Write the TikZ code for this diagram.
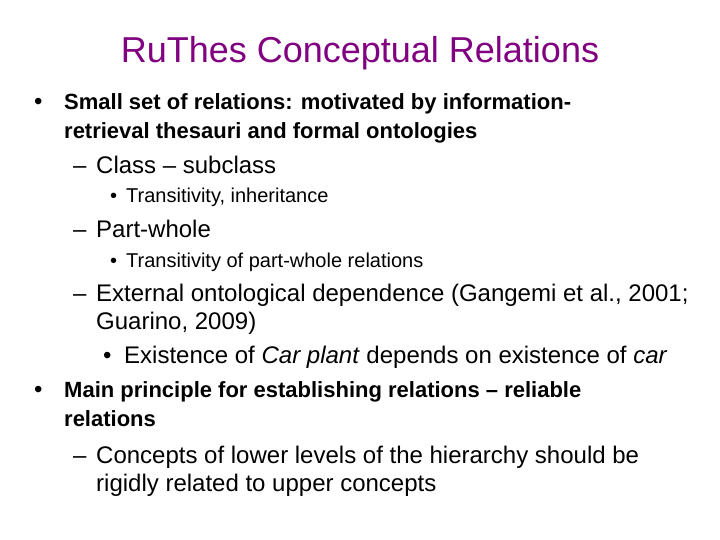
\documentclass[tikz,border=0pt]{standalone}
\usepackage{fontspec}
\setmainfont{Liberation Sans}
\definecolor{titlec}{RGB}{128,0,128}
\begin{document}
\begin{tikzpicture}[x=1pt,y=-1pt,
  every node/.style={inner sep=0pt,anchor=base west},
  lone/.style={font=\fontsize{22}{26}\selectfont\bfseries},
  ltwo/.style={font=\fontsize{24}{28}\selectfont},
  lthree/.style={font=\fontsize{20}{24}\selectfont},
  bul/.style={font=\fontsize{24}{28}\selectfont}]
\useasboundingbox (0,0) rectangle (720,540);
\node[anchor=base,text=titlec,font=\fontsize{36}{42}\selectfont] (t) at (360,63) {RuThes Conceptual Relations};
\node[bul] (b1) at (34,110) {•};
\node[lone] (l1) at (64,110) {Small set of relations: motivated by information-};
\node[lone] (l2) at (64,139) {retrieval thesauri and formal ontologies};
\node[ltwo] (d1) at (73,174) {–};
\node[ltwo] (l3) at (96,174) {Class – subclass};
\node[lthree] (s1) at (110,203) {•};
\node[lthree] (l4) at (126,203) {Transitivity, inheritance};
\node[ltwo] (d2) at (73,237) {–};
\node[ltwo] (l5) at (96,237) {Part-whole};
\node[lthree] (s2) at (110,267) {•};
\node[lthree] (l6) at (126,267) {Transitivity of part-whole relations};
\node[ltwo] (d3) at (73,301) {–};
\node[ltwo] (l7) at (96,301) {External ontological dependence (Gangemi et al., 2001;};
\node[ltwo] (l8) at (96,329) {Guarino, 2009)};
\node[bul] (s3) at (103,363) {•};
\node[ltwo] (l9) at (124,363) {Existence of \textit{Car plant} depends on existence of \textit{car}};
\node[bul] (b2) at (34,397) {•};
\node[lone] (l10) at (64,397) {Main principle for establishing relations – reliable};
\node[lone] (l11) at (64,426) {relations};
\node[ltwo] (d4) at (73,463) {–};
\node[ltwo] (l12) at (96,463) {Concepts of lower levels of the hierarchy should be};
\node[ltwo] (l13) at (96,491) {rigidly related to upper concepts};
\end{tikzpicture}
\end{document}
